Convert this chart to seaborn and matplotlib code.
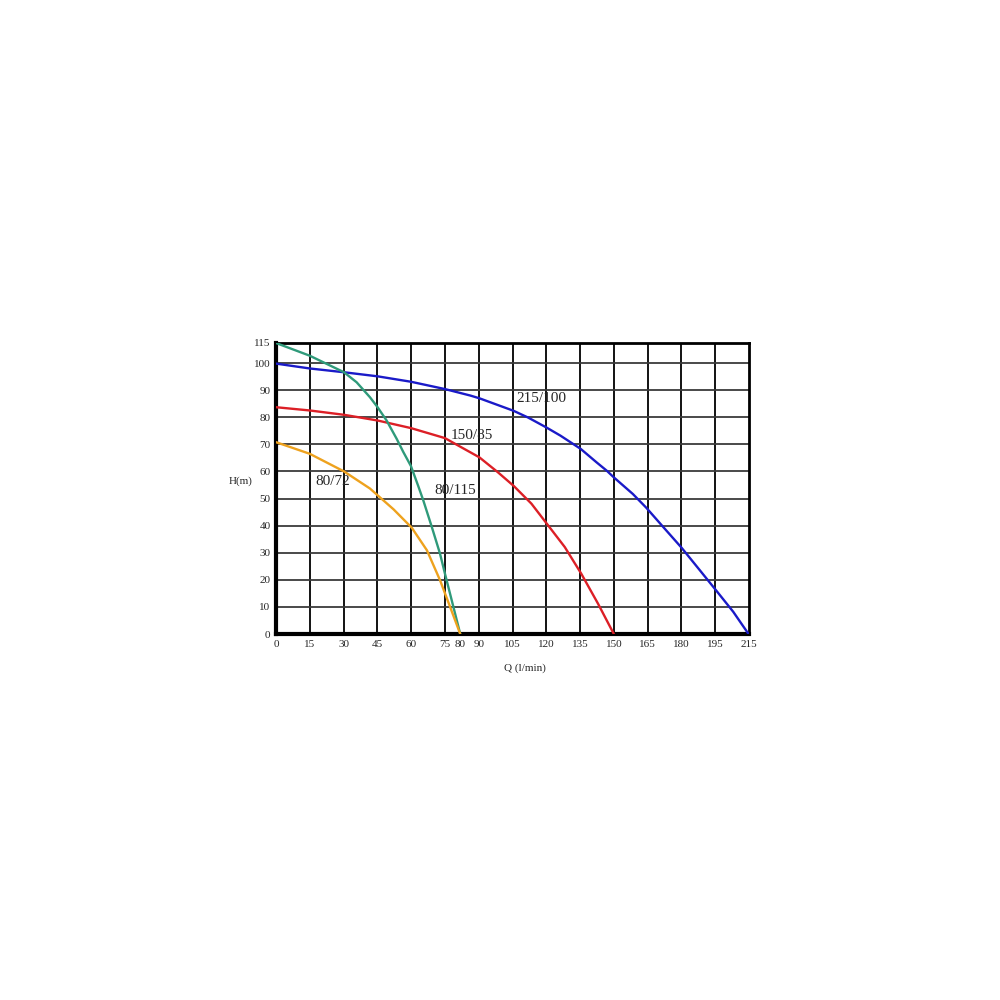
import numpy as np
import pandas as pd
import matplotlib
matplotlib.use("Agg")
import matplotlib.pyplot as plt
import seaborn as sns

# Kurva pompa: Q (posisi pada sumbu) dan H (m)
q_215 = [0, 15, 30.2, 45.1, 59.9, 75, 86.3, 90.3, 105.4, 111.9, 120.1, 126.3, 135.3,
         142.4, 146.8, 150, 158.4, 164.4, 171.8, 180, 188.2, 195.3, 203, 209.8]
h_215 = [99.8, 98.0, 96.6, 95.1, 93.1, 90.4, 88.0, 87.0, 82.4, 79.9, 76.2, 73.2, 68.3,
         63.3, 60.3, 57.8, 51.7, 46.6, 39.6, 31.9, 23.5, 16.2, 8.2, 0]

q_150 = [0, 15, 30.2, 45.1, 59.9, 75, 82.3, 90.3, 98.5, 105.6, 113.4, 120.8, 128.2,
         135.5, 142.9, 150]
h_150 = [83.7, 82.5, 80.9, 78.8, 76.0, 72.3, 68.9, 65.2, 59.7, 54.6, 48.1, 40.1, 32.1,
         22.3, 11.3, 0]

q_80a = [0, 15, 30.2, 35.8, 41.7, 45.1, 49.1, 53.6, 56.5, 59.9, 63.2, 65.4, 69.1,
         72.8, 75, 78, 81.8]
h_80a = [107.4, 102.7, 96.6, 92.9, 87.4, 83.7, 78.8, 72, 67.2, 62, 54.5, 49.3, 39.7,
         29.7, 22.3, 12.5, 0]

q_80b = [0, 15, 30.2, 41.7, 45.1, 52.2, 60.3, 67.0, 72.8, 77.3, 81.8]
h_80b = [70.8, 66.5, 60.0, 53.7, 51.2, 46.0, 39.2, 30.9, 19.9, 10.0, 0]

x_ticks = [0, 15, 30, 45, 60, 75, 81.8, 90, 105, 120, 135, 150, 165, 180, 195, 210]
x_labels = ["0", "15", "30", "45", "60", "75", "80", "90", "105", "120", "135",
            "150", "165", "180", "195", "215"]
x_grid = [15, 30, 45, 60, 75, 90, 105, 120, 135, 150, 165, 180, 195]
y_ticks = [0, 10, 20, 30, 40, 50, 60, 70, 80, 90, 100, 107.4]
y_labels = ["0", "10", "20", "30", "40", "50", "60", "70", "80", "90", "100", "115"]

curves = [
    ("215/100", q_215, h_215, "#1a1ac8"),
    ("150/85", q_150, h_150, "#dc1f26"),
    ("80/115", q_80a, h_80a, "#2f9a7a"),
    ("80/72", q_80b, h_80b, "#eea21e"),
]

sns.set_style("white")
plt.rcParams["font.family"] = ["Liberation Serif", "DejaVu Serif"]

fig = plt.figure(figsize=(10, 10), dpi=100)
ax = fig.add_axes([0.276, 0.366, 0.473, 0.291])

# garis grid
for xg in x_grid:
    ax.axvline(xg, color="black", lw=1.3, zorder=1)
for yg in y_ticks[1:-1]:
    ax.axhline(yg, color="#3a3a3a", lw=1.3, zorder=1)

for name, q, h, col in curves:
    df = pd.DataFrame({"Q": q, "H": h})
    sns.lineplot(data=df, x="Q", y="H", ax=ax, color=col, lw=1.7, sort=False, zorder=3)

ax.set_xlim(0, 210)
ax.set_ylim(0, 107.4)
ax.set_xticks(x_ticks)
ax.set_xticklabels(x_labels, fontsize=8)
ax.set_yticks(y_ticks)
ax.set_yticklabels(y_labels, fontsize=8)
ax.tick_params(length=0, pad=4)
ax.set_xlabel("Q (l/min)", fontsize=8)
ax.xaxis.set_label_coords(0.527, -0.1)
ax.set_ylabel("H(m)", fontsize=8, rotation=0)
ax.yaxis.set_label_coords(-0.075, 0.51)

for side in ["left", "bottom"]:
    ax.spines[side].set_linewidth(3)
    ax.spines[side].set_color("black")
for side in ["top", "right"]:
    ax.spines[side].set_linewidth(2)
    ax.spines[side].set_color("black")

# label kurva
ax.text(118, 86.9, "215/100", fontsize=11, ha="center", va="center")
ax.text(86.9, 73.2, "150/85", fontsize=11, ha="center", va="center")
ax.text(79.4, 52.9, "80/115", fontsize=11, ha="center", va="center")
ax.text(25.2, 56.4, "80/72", fontsize=11, ha="center", va="center")

fig.savefig("out.png", dpi=100, facecolor="white")
plt.close(fig)
